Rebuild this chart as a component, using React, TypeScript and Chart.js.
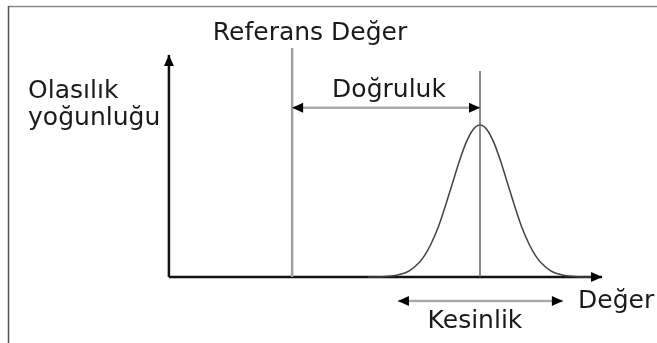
import { useEffect, useRef } from "react";
import { Chart, registerables } from "chart.js";

Chart.register(...registerables);

// Probability density of the measurements (mean 0, unit standard deviation)
const curveX = [-4, -3.5, -3, -2.5, -2, -1.5, -1, -0.75, -0.5, -0.25, 0, 0.25, 0.5, 0.75, 1, 1.5, 2, 2.5, 3, 3.5, 4];
const curveY = [0.0001, 0.0009, 0.0044, 0.0175, 0.054, 0.1295, 0.242, 0.3011, 0.3521, 0.3867, 0.3989, 0.3867, 0.3521, 0.3011, 0.242, 0.1295, 0.054, 0.0175, 0.0044, 0.0009, 0.0001];

// Key values on the value axis
const meanValue = 0;
const referenceValue = -6.71;
const axisOriginX = -11.11;
const axisEndX = 4.36;
const axisEndY = 0.583;
const referenceTop = 0.601;
const meanTop = 0.541;
const accuracyLevel = 0.444;
const precisionLevel = -0.063;
const precisionLow = -2.93;
const precisionHigh = 2.96;

// Text labels and their anchors (value units)
const labelTexts = ["Referans Değer", "Olasılık", "yoğunluğu", "Doğruluk", "Kesinlik", "Değer"];
const labelX = [-6.07, -16.14, -16.14, -3.25, -0.18, 3.5];
const labelY = [0.622, 0.47, 0.399, 0.472, -0.134, -0.081];
const labelAlign: CanvasTextAlign[] = ["center", "left", "left", "center", "center", "left"];

const arrowPlugin = {
  id: "arrowHeads",
  afterDatasetsDraw(chart: any) {
    const ctx = chart.ctx;
    chart.data.datasets.forEach((ds: any, i: number) => {
      if (!ds.arrows) return;
      const pts = chart.getDatasetMeta(i).data;
      if (pts.length < 2) return;
      const head = (tip: any, from: any) => {
        const ang = Math.atan2(tip.y - from.y, tip.x - from.x);
        const len = 11;
        const half = 5;
        const bx = tip.x - Math.cos(ang) * len;
        const by = tip.y - Math.sin(ang) * len;
        ctx.beginPath();
        ctx.moveTo(tip.x, tip.y);
        ctx.lineTo(bx - Math.sin(ang) * half, by + Math.cos(ang) * half);
        ctx.lineTo(bx + Math.sin(ang) * half, by - Math.cos(ang) * half);
        ctx.closePath();
        ctx.fillStyle = "#000";
        ctx.fill();
      };
      ctx.save();
      head(pts[pts.length - 1], pts[pts.length - 2]);
      if (ds.arrows === "both") head(pts[0], pts[1]);
      ctx.restore();
    });
  },
};

const framePlugin = {
  id: "frameAndText",
  beforeDraw(chart: any) {
    const { ctx, width, height } = chart;
    ctx.save();
    ctx.fillStyle = "#fff";
    ctx.fillRect(0, 0, width, height);
    ctx.lineWidth = 1.5;
    ctx.strokeStyle = "#8a8a8a";
    ctx.beginPath();
    ctx.moveTo(8, 6.5);
    ctx.lineTo(width, 6.5);
    ctx.stroke();
    ctx.strokeStyle = "#555";
    ctx.beginPath();
    ctx.moveTo(8.5, 6);
    ctx.lineTo(8.5, height);
    ctx.stroke();
    ctx.restore();
  },
  afterDraw(chart: any) {
    const { ctx } = chart;
    const xs = chart.scales.x;
    const ys = chart.scales.y;
    ctx.save();
    ctx.font = '25px "DejaVu Sans"';
    ctx.fillStyle = "#1a1a1a";
    ctx.textBaseline = "alphabetic";
    labelTexts.forEach((t, i) => {
      ctx.textAlign = labelAlign[i];
      ctx.fillText(t, xs.getPixelForValue(labelX[i]), ys.getPixelForValue(labelY[i]));
    });
    ctx.restore();
  },
};

export default function App() {
  const canvasRef = useRef<HTMLCanvasElement | null>(null);

  useEffect(() => {
    if (!canvasRef.current) return;
    const line = (points: { x: number; y: number }[], color: string, width: number, extra: any = {}) => ({
      data: points,
      showLine: true,
      borderColor: color,
      borderWidth: width,
      pointRadius: 0,
      fill: false,
      ...extra,
    });

    const chart = new Chart(canvasRef.current, {
      type: "scatter",
      data: {
        datasets: [
          line(
            [
              { x: referenceValue, y: 0 },
              { x: referenceValue, y: referenceTop },
            ],
            "#a0a0a0",
            2.5
          ),
          line(
            [
              { x: meanValue, y: 0 },
              { x: meanValue, y: meanTop },
            ],
            "#666",
            1.5
          ),
          line(
            curveX.map((x, i) => ({ x, y: curveY[i] })),
            "#444",
            1.5,
            { cubicInterpolationMode: "monotone" }
          ),
          line(
            [
              { x: referenceValue, y: accuracyLevel },
              { x: meanValue, y: accuracyLevel },
            ],
            "#aaa",
            2.5,
            { arrows: "both" }
          ),
          line(
            [
              { x: precisionLow, y: precisionLevel },
              { x: precisionHigh, y: precisionLevel },
            ],
            "#aaa",
            2.5,
            { arrows: "both" }
          ),
          line(
            [
              { x: axisOriginX, y: 0 },
              { x: axisOriginX, y: axisEndY },
            ],
            "#111",
            2.5,
            { arrows: "end" }
          ),
          line(
            [
              { x: axisOriginX, y: 0 },
              { x: axisEndX, y: 0 },
            ],
            "#111",
            2.5,
            { arrows: "end" }
          ),
        ] as any,
      },
      options: {
        animation: false,
        responsive: false,
        devicePixelRatio: 1,
        layout: { padding: 0 },
        plugins: { legend: { display: false }, tooltip: { enabled: false } },
        scales: {
          x: { type: "linear", min: -480 / 28, max: 177 / 28, display: false },
          y: { type: "linear", min: -66 / 381, max: 277 / 381, display: false },
        },
      },
      plugins: [framePlugin, arrowPlugin],
    });
    return () => chart.destroy();
  }, []);

  return (
    <div style={{ position: "fixed", left: 0, top: 0, width: 657, height: 343, background: "#fff" }}>
      <canvas ref={canvasRef} width={657} height={343} style={{ display: "block" }} />
    </div>
  );
}
